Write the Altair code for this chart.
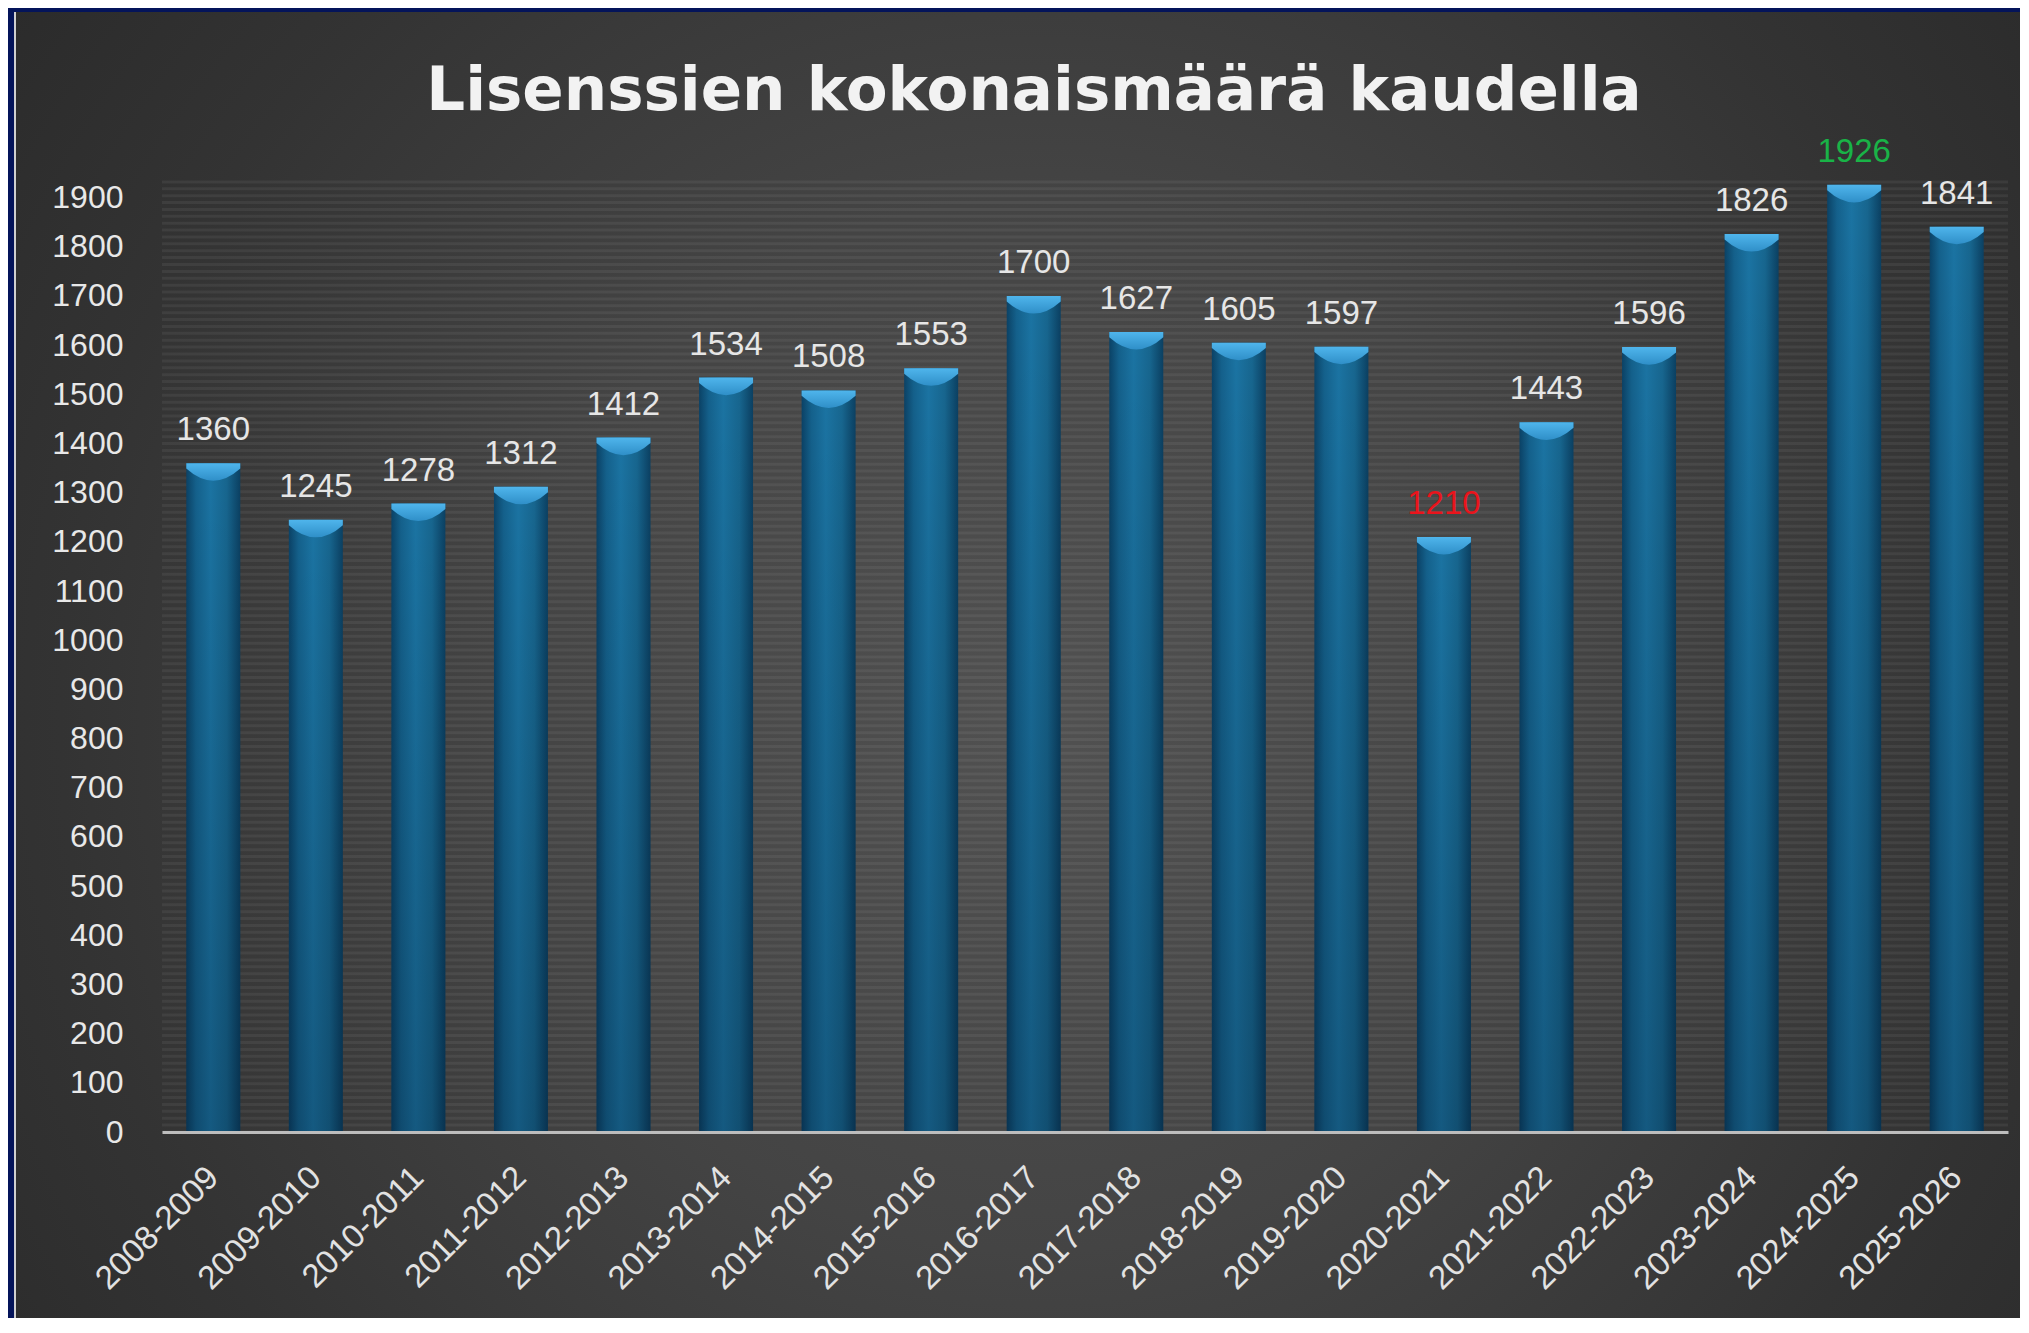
import altair as alt
import pandas as pd

# ---- data ----
seasons = ["2008-2009", "2009-2010", "2010-2011", "2011-2012", "2012-2013",
           "2013-2014", "2014-2015", "2015-2016", "2016-2017", "2017-2018",
           "2018-2019", "2019-2020", "2020-2021", "2021-2022", "2022-2023",
           "2023-2024", "2024-2025", "2025-2026"]
values = [1360, 1245, 1278, 1312, 1412, 1534, 1508, 1553, 1700, 1627,
          1605, 1597, 1210, 1443, 1596, 1826, 1926, 1841]
y_ticks = list(range(0, 2000, 100))
title_text = "Lisenssien kokonaismäärä kaudella"

# ---- layout (pixels) ----
W, H = 2012, 1310
PL, PT, PR = 154, 167, 12
PW, PH = 1846, 957
PB = H - PT - PH
YMAX = 1946
BAR_W = 54

df = pd.DataFrame({"season": seasons, "value": values})
stripes = pd.DataFrame({"value": list(range(0, YMAX, 14))})
one = pd.DataFrame({"t": [title_text]})

FONT = "Liberation Sans"
x_sort = seasons
yscale = alt.Scale(domain=[0, YMAX], nice=False, zero=True)
y_axis = alt.Axis(title=None, values=y_ticks, format="d", labelFontSize=32,
                  labelFont=FONT, labelColor="#e8e8e8", labelPadding=39,
                  ticks=False, tickSize=0, domain=False, grid=False, zindex=1,
                  labelFlush=False)

# background with radial gradient
bg = alt.Chart(one).mark_rect(
    fill={"gradient": "radial", "x1": 0.51, "y1": 0.53, "r1": 0,
          "x2": 0.51, "y2": 0.53, "r2": 0.75,
          "stops": [{"offset": 0, "color": "#515151"},
                    {"offset": 0.35, "color": "#444444"},
                    {"offset": 0.65, "color": "#333333"},
                    {"offset": 1, "color": "#242424"}]}
).encode(x=alt.value(16 - 8 - PL), x2=alt.value(W - PL),
         y=alt.value(12 - 8 - PT), y2=alt.value(H - PT))

edge = alt.Chart(one).mark_rect(fill="#cfcfcf").encode(
    x=alt.value(14 - 8 - PL), x2=alt.value(16 - 8 - PL),
    y=alt.value(12 - 8 - PT), y2=alt.value(H - PT))

stripe_layer = alt.Chart(stripes).mark_rule(
    color="#ffffff", opacity=0.06, strokeWidth=3
).encode(y=alt.Y("value:Q", scale=yscale, axis=y_axis),
         x=alt.value(0), x2=alt.value(PW))

x_enc = alt.X("season:N", sort=x_sort, scale=alt.Scale(paddingInner=0, paddingOuter=0),
              axis=alt.Axis(title=None, labelAngle=-45, labelAlign="right",
                            labelBaseline="middle", labelPadding=40, ticks=False,
                            tickSize=0, domain=True, domainColor="#bdbdbd",
                            domainWidth=3, labelFontSize=33, labelFont=FONT,
                            labelColor="#e2e2e2", zindex=1, grid=False))
y_enc = alt.Y("value:Q", scale=yscale, axis=y_axis)

bars = alt.Chart(df).mark_bar(
    size=BAR_W,
    fill={"gradient": "linear", "x1": 0, "y1": 0, "x2": 1, "y2": 0,
          "stops": [{"offset": 0, "color": "#0b4266"},
                    {"offset": 0.18, "color": "#14618c"},
                    {"offset": 0.45, "color": "#1b74a3"},
                    {"offset": 0.75, "color": "#17668f"},
                    {"offset": 1, "color": "#0b4062"}]}
).encode(x=x_enc, y=y_enc)

shade = alt.Chart(df).mark_bar(
    size=BAR_W,
    fill={"gradient": "linear", "x1": 0, "y1": 0, "x2": 0, "y2": 1,
          "stops": [{"offset": 0, "color": "rgba(0,0,0,0)"},
                    {"offset": 1, "color": "rgba(0,10,25,0.25)"}]}
).encode(x=alt.X("season:N", sort=x_sort), y=y_enc)

# crescent-shaped highlight on the top of each bar
cap = alt.Chart(df).mark_point(
    shape="M -1 0 L 1 0 L 1 0.2 Q 0 1.1 -1 0.2 Z",
    size=BAR_W * BAR_W, filled=True, opacity=1, strokeWidth=0,
    fill={"gradient": "linear", "x1": 0, "y1": 0, "x2": 0, "y2": 1,
          "stops": [{"offset": 0, "color": "#4fb5ec"},
                    {"offset": 1, "color": "#2f8fc8"}]}
).encode(x=alt.X("season:N", sort=x_sort), y=y_enc)

labels = alt.Chart(df).transform_joinaggregate(
    vmax="max(value)", vmin="min(value)"
).transform_calculate(
    lc="datum.value == datum.vmax ? '#19b347' : (datum.value == datum.vmin ? '#ea141c' : '#e6e6e6')"
).mark_text(
    font=FONT, fontSize=33, baseline="alphabetic", align="center", dy=-23
).encode(x=alt.X("season:N", sort=x_sort), y=y_enc,
         text="value:Q", color=alt.Color("lc:N", scale=None, legend=None))

title = alt.Chart(one).mark_text(
    font="DejaVu Sans", fontWeight="bold", fontSize=61, color="#f2f2f2",
    align="center", baseline="alphabetic"
).encode(x=alt.value(1034 - 8 - PL), y=alt.value(110 - 8 - PT), text="t:N")

chart = alt.layer(bg, edge, stripe_layer, bars, shade, cap, labels, title).properties(
    width=PW, height=PH,
    autosize=alt.AutoSizeParams(type="none"),
    padding={"left": PL, "top": PT, "right": PR, "bottom": PB},
    background="#04145a",
).configure_view(stroke=None)

chart.save("out.html", embed_options={"renderer": "svg", "actions": False})
